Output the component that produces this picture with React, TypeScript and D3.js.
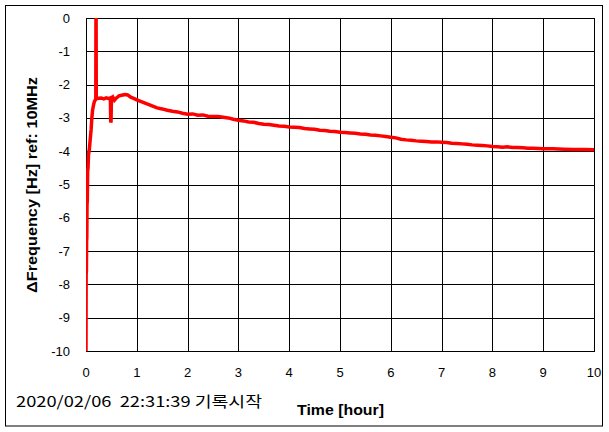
import { useRef, useEffect } from "react"
import * as d3 from "d3"

// elapsed time since start of recording [hour]
const timeHours = [
  0, 0.003, 0.008, 0.012, 0.016, 0.02, 0.026, 0.032, 0.04, 0.05, 0.065, 0.08, 0.1, 0.115, 0.13, 0.15, 0.165,
  0.18, 0.193, 0.196, 0.199, 0.202, 0.22, 0.25, 0.3, 0.35, 0.4, 0.45, 0.48, 0.487, 0.493, 0.5, 0.51, 0.53,
  0.56, 0.6, 0.65, 0.7, 0.77, 0.82, 0.88, 0.95, 1.0, 1.1, 1.2, 1.3, 1.4, 1.5, 1.6, 1.7, 1.8, 1.9, 2.0, 2.1,
  2.2, 2.3, 2.4, 2.5, 2.6, 2.7, 2.8, 2.9, 3.0, 3.1, 3.2, 3.3, 3.4, 3.5, 3.6, 3.7, 3.8, 3.9, 4.0, 4.1, 4.2,
  4.3, 4.4, 4.5, 4.6, 4.7, 4.8, 4.9, 5.0, 5.1, 5.2, 5.3, 5.4, 5.5, 5.6, 5.7, 5.8, 5.9, 6.0, 6.1, 6.2, 6.3,
  6.4, 6.5, 6.6, 6.7, 6.8, 6.9, 7.0, 7.1, 7.2, 7.3, 7.4, 7.5, 7.6, 7.7, 7.8, 7.9, 8.0, 8.1, 8.2, 8.3, 8.4,
  8.5, 8.6, 8.7, 8.8, 8.9, 9.0, 9.2, 9.4, 9.6, 9.8, 10.0,
]

// frequency offset vs 10 MHz reference [Hz]
const deltaFreq = [
  -10, -7.7, -7.6, -6.7, -6.6, -5.6, -5.5, -4.6, -4.5, -4.1, -3.96, -3.7, -3.36, -3.0, -2.76, -2.6, -2.51,
  -2.47, -2.44, 0, 0, -2.42, -2.42, -2.41, -2.4, -2.43, -2.4, -2.42, -2.4, -3.14, -3.1, -2.45, -2.42, -2.38,
  -2.47, -2.4, -2.34, -2.32, -2.3, -2.31, -2.38, -2.42, -2.46, -2.52, -2.58, -2.64, -2.7, -2.73, -2.77, -2.8,
  -2.82, -2.86, -2.89, -2.88, -2.92, -2.91, -2.95, -2.96, -2.96, -2.98, -3.0, -3.04, -3.07, -3.09, -3.12,
  -3.13, -3.17, -3.19, -3.2, -3.22, -3.24, -3.25, -3.27, -3.28, -3.29, -3.32, -3.33, -3.34, -3.37, -3.38,
  -3.4, -3.41, -3.43, -3.44, -3.45, -3.46, -3.48, -3.49, -3.51, -3.52, -3.54, -3.56, -3.58, -3.6, -3.64,
  -3.66, -3.67, -3.69, -3.7, -3.71, -3.72, -3.72, -3.73, -3.74, -3.76, -3.77, -3.78, -3.79, -3.81, -3.82,
  -3.83, -3.84, -3.86, -3.87, -3.88, -3.87, -3.89, -3.89, -3.9, -3.91, -3.91, -3.92, -3.93, -3.93, -3.94,
  -3.95, -3.95, -3.96,
]

const xTicks = [0, 1, 2, 3, 4, 5, 6, 7, 8, 9, 10]
const yTicks = [0, -1, -2, -3, -4, -5, -6, -7, -8, -9, -10]

const startLabel = "2020/02/06  22:31:39 기록시작"
const xTitle = "Time [hour]"
const yTitle = "ΔFrequency [Hz] ref: 10MHz"

export default function App() {
  const svgRef = useRef<SVGSVGElement>(null)

  useEffect(() => {
    if (!svgRef.current) return
    const svg = d3.select(svgRef.current)
    svg.selectAll("*").remove()

    const width = 609
    const height = 432
    const plot = { left: 86, right: 594, top: 18, bottom: 351 }
    const tickFont = "'Liberation Sans', Arial, sans-serif"

    const x = d3.scaleLinear().domain([0, 10]).range([plot.left, plot.right])
    const y = d3.scaleLinear().domain([-10, 0]).range([plot.bottom, plot.top])

    svg.append("rect").attr("width", width).attr("height", height).attr("fill", "white")

    // outer frame
    svg
      .append("rect")
      .attr("x", 5.5)
      .attr("y", 5.5)
      .attr("width", 597)
      .attr("height", 420.5)
      .attr("fill", "none")
      .attr("stroke", "black")

    // grid
    const grid = svg.append("g").attr("stroke", "black").attr("stroke-width", 1)
    grid
      .selectAll()
      .data(xTicks)
      .join("line")
      .attr("x1", (d) => Math.round(x(d)) + 0.5)
      .attr("x2", (d) => Math.round(x(d)) + 0.5)
      .attr("y1", plot.top)
      .attr("y2", plot.bottom)
    grid
      .selectAll()
      .data(yTicks)
      .join("line")
      .attr("x1", plot.left)
      .attr("x2", plot.right + 1)
      .attr("y1", (d) => Math.round(y(d)) + 0.5)
      .attr("y2", (d) => Math.round(y(d)) + 0.5)

    // data line
    svg
      .append("defs")
      .append("clipPath")
      .attr("id", "plot-clip")
      .append("rect")
      .attr("x", plot.left)
      .attr("y", plot.top)
      .attr("width", plot.right - plot.left)
      .attr("height", plot.bottom - plot.top)

    const points = timeHours.map((t, i) => [t, deltaFreq[i]] as [number, number])
    const line = d3
      .line<[number, number]>()
      .x((d) => x(d[0]))
      .y((d) => y(d[1]))

    svg
      .append("path")
      .datum(points)
      .attr("clip-path", "url(#plot-clip)")
      .attr("d", line)
      .attr("fill", "none")
      .attr("stroke", "#ff0000")
      .attr("stroke-width", 3.5)
      .attr("stroke-linejoin", "miter")

    // tick labels
    svg
      .append("g")
      .selectAll()
      .data(yTicks)
      .join("text")
      .attr("x", 70)
      .attr("y", (d) => y(d))
      .attr("dy", "0.35em")
      .attr("text-anchor", "end")
      .attr("font-family", tickFont)
      .attr("font-size", 13)
      .text((d) => String(d))

    svg
      .append("g")
      .selectAll()
      .data(xTicks)
      .join("text")
      .attr("x", (d) => x(d))
      .attr("y", 372)
      .attr("dy", "0.35em")
      .attr("text-anchor", "middle")
      .attr("font-family", tickFont)
      .attr("font-size", 13)
      .text((d) => String(d))

    // titles
    svg
      .append("text")
      .attr("transform", `translate(37, 185) rotate(-90)`)
      .attr("text-anchor", "middle")
      .attr("font-family", tickFont)
      .attr("font-weight", "bold")
      .attr("font-size", 15)
      .attr("textLength", 216)
      .attr("lengthAdjust", "spacingAndGlyphs")
      .text(yTitle)

    svg
      .append("text")
      .attr("x", 297)
      .attr("y", 415)
      .attr("font-family", tickFont)
      .attr("font-weight", "bold")
      .attr("font-size", 15)
      .attr("textLength", 87)
      .attr("lengthAdjust", "spacingAndGlyphs")
      .text(xTitle)

    svg
      .append("text")
      .attr("x", 16)
      .attr("y", 407)
      .attr("font-family", "'Noto Sans CJK KR', 'DejaVu Sans', sans-serif")
      .attr("font-size", 15)
      .attr("textLength", 246)
      .attr("lengthAdjust", "spacingAndGlyphs")
      .attr("xml:space", "preserve")
      .style("white-space", "pre")
      .text(startLabel)
  }, [])

  return (
    <svg
      ref={svgRef}
      width={609}
      height={432}
      style={{ position: "absolute", left: 0, top: 0, display: "block" }}
    />
  )
}
